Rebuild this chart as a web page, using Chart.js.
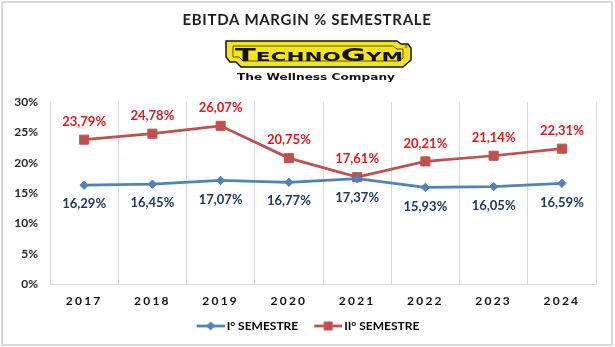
<!DOCTYPE html>
<html>
<head>
<meta charset="utf-8">
<title>EBITDA margin % semestrale</title>
<script src="https://cdn.jsdelivr.net/npm/chart.js@4/dist/chart.umd.min.js"></script>
<style>
  html, body { margin: 0; padding: 0; background: #fff; }
  #wrap { position: relative; width: 615px; height: 347px; overflow: hidden; }
  #chart { position: absolute; left: 0; top: 0; }
  #frame {
    position: absolute; left: 1px; top: 1px; width: 612px; height: 345px;
    box-sizing: border-box; border: 2px solid #d9d9d9; pointer-events: none;
  }
  #logo { position: absolute; left: 225px; top: 40px; }
</style>
</head>
<body>
<div id="wrap">
  <canvas id="chart" width="615" height="347"></canvas>
  <svg id="logo" width="188" height="44" viewBox="0 0 188 44">
    <polygon points="1,1 172,1 176,4 183,4 186,8 186,20 178,27 16,27 11,22 5,22 1,17"
             fill="#f3e41c" stroke="#151515" stroke-width="1.5" stroke-linejoin="round"/>
    <polygon points="8,6 168,6 172,9 178,9 178,18 174,21 18,21 14,17 8,17"
             fill="none" stroke="#151515" stroke-width="0.7"/>
    <text x="94" y="20.5" text-anchor="middle" font-family="DejaVu Sans" font-weight="bold"
          textLength="168" lengthAdjust="spacingAndGlyphs" fill="#111"><tspan font-size="17">T</tspan><tspan font-size="12">ECHNO</tspan><tspan font-size="17">G</tspan><tspan font-size="12">YM</tspan></text>
    <text x="179" y="8" font-family="DejaVu Sans" font-size="4" fill="#111">®</text>
    <text x="91" y="40" text-anchor="middle" font-family="DejaVu Sans" font-weight="bold"
          font-size="8.5" textLength="158" lengthAdjust="spacingAndGlyphs" fill="#111">The Wellness Company</text>
  </svg>
  <div id="frame"></div>
</div>
<script>
// EBITDA margin by half-year, Technogym
const years = ['2017', '2018', '2019', '2020', '2021', '2022', '2023', '2024'];
const firstHalf = [16.29, 16.45, 17.07, 16.77, 17.37, 15.93, 16.05, 16.59];
const secondHalf = [23.79, 24.78, 26.07, 20.75, 17.61, 20.21, 21.14, 22.31];
const seriesNames = ['I° SEMESTRE', 'II° SEMESTRE'];
const yTicks = [0, 5, 10, 15, 20, 25, 30];

const BLUE = '#4f81bd';
const RED = '#c0504d';
const BLUE_LABEL = '#1f3864';
const RED_LABEL = '#e8161b';
const FONT = 'Lato, "Open Sans", sans-serif';

const fmt = v => v.toFixed(2).replace('.', ',') + '%';

// legend symbol: a short line with the series marker in the middle
function legendSymbol(color, shape) {
  const c = document.createElement('canvas');
  c.width = 42; c.height = 14;
  const g = c.getContext('2d');
  g.strokeStyle = color; g.lineWidth = 2.75;
  g.beginPath(); g.moveTo(14, 7); g.lineTo(42, 7); g.stroke();
  g.fillStyle = color;
  g.beginPath();
  if (shape === 'diamond') {
    g.moveTo(28, 2.5); g.lineTo(32.5, 7); g.lineTo(28, 11.5); g.lineTo(23.5, 7);
  } else {
    g.rect(23.5, 2.5, 9, 9);
  }
  g.closePath(); g.fill();
  return c;
}
const symbols = [legendSymbol(BLUE, 'diamond'), legendSymbol(RED, 'square')];

// value labels: first half below its point, second half above
const valueLabels = {
  id: 'valueLabels',
  afterDatasetsDraw(chart) {
    const ctx = chart.ctx;
    ctx.save();
    ctx.font = 'bold 13px ' + FONT;
    ctx.textAlign = 'center';
    ctx.textBaseline = 'middle';
    chart.data.datasets.forEach((ds, di) => {
      const meta = chart.getDatasetMeta(di);
      meta.data.forEach((pt, i) => {
        const below = di === 0;
        ctx.fillStyle = below ? BLUE_LABEL : RED_LABEL;
        ctx.fillText(fmt(ds.data[i]), pt.x, pt.y + (below ? 19 : -18));
      });
    });
    ctx.restore();
  }
};

// spaced lettering for title and years; title and legend centred on the whole page
function wrapDraw(box, fnName, spacing, dx) {
  if (!box || box._wrapped) return;
  const orig = box[fnName].bind(box);
  box[fnName] = function (...args) {
    const ctx = this.ctx;
    ctx.save();
    if (spacing) ctx.letterSpacing = spacing;
    if (dx) ctx.translate(dx, 0);
    orig(...args);
    ctx.restore();
  };
  box._wrapped = true;
}
const pageText = {
  id: 'pageText',
  afterLayout(chart) {
    wrapDraw(chart.scales.x, 'drawLabels', '2.2px', 0);
    wrapDraw(chart.titleBlock, 'draw', '0.7px', 9);
    wrapDraw(chart.legend, 'draw', null, 5);
  }
};

new Chart(document.getElementById('chart'), {
  type: 'line',
  data: {
    labels: years,
    datasets: [
      {
        label: seriesNames[0], data: firstHalf,
        borderColor: BLUE, backgroundColor: BLUE, borderWidth: 2.75,
        pointStyle: 'rectRot', pointRadius: 4.2, pointBorderWidth: 1, tension: 0
      },
      {
        label: seriesNames[1], data: secondHalf,
        borderColor: RED, backgroundColor: RED, borderWidth: 2.75,
        pointStyle: 'rect', pointRadius: 6.4, pointBorderWidth: 1, tension: 0
      }
    ]
  },
  options: {
    responsive: false,
    animation: false,
    layout: { padding: { top: 0, left: 0, right: 19, bottom: 5 } },
    plugins: {
      title: {
        display: true,
        text: 'EBITDA MARGIN % SEMESTRALE',
        color: '#1e1e1e',
        font: { family: FONT, size: 15, weight: 'bold' },
        padding: { top: 11, bottom: 73 }
      },
      legend: {
        position: 'bottom',
        labels: {
          color: '#262626',
          font: { family: FONT, size: 12, weight: 'bold' },
          usePointStyle: true,
          pointStyleWidth: 34,
          padding: 6,
          generateLabels: chart => chart.data.datasets.map((ds, i) => ({
            text: ds.label, datasetIndex: i, pointStyle: symbols[i],
            fillStyle: ds.borderColor, strokeStyle: ds.borderColor, lineWidth: 0, hidden: false
          }))
        }
      },
      tooltip: { enabled: false }
    },
    scales: {
      x: {
        offset: true,
        grid: { display: true, offset: true, color: '#d9d9d9', lineWidth: 1, drawTicks: false },
        border: { display: true, color: '#d9d9d9', width: 1 },
        ticks: { color: '#111', padding: 10, font: { family: FONT, size: 12, weight: 'bold' } },
        afterFit: s => { s.height = 30; }
      },
      y: {
        min: yTicks[0], max: yTicks[yTicks.length - 1],
        afterBuildTicks: s => { s.ticks = yTicks.map(v => ({ value: v })); },
        grid: { display: false, drawTicks: false },
        border: { display: false },
        ticks: {
          color: '#262626', padding: 12,
          font: { family: FONT, size: 12, weight: 'bold' },
          callback: v => v + '%'
        },
        afterFit: s => { s.width = 50; }
      }
    }
  },
  plugins: [valueLabels, pageText]
});
</script>
</body>
</html>
